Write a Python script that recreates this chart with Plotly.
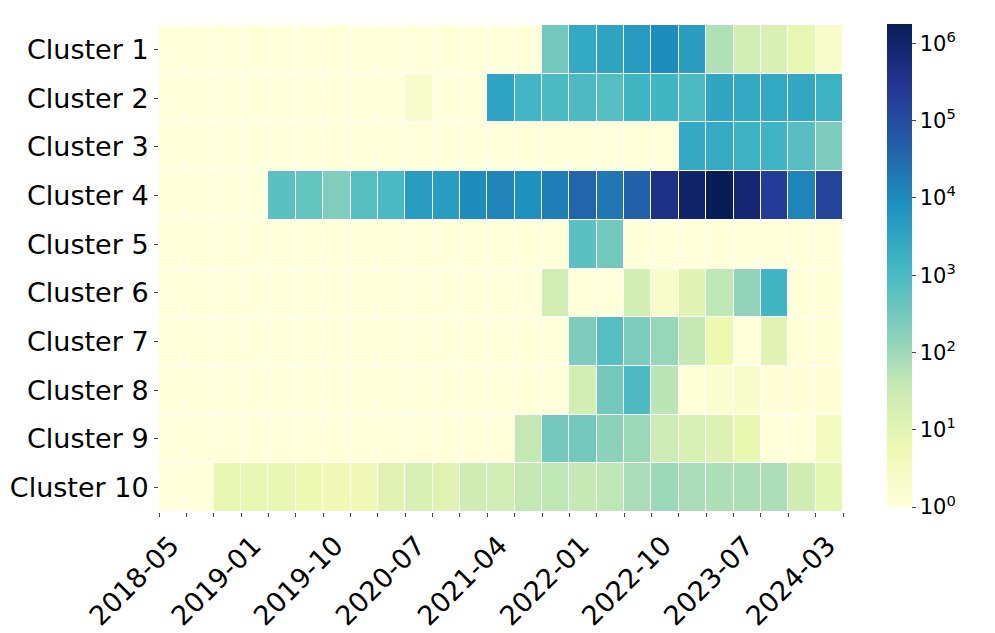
import numpy as np
import plotly.graph_objects as go

clusters = ["Cluster 1", "Cluster 2", "Cluster 3", "Cluster 4", "Cluster 5",
            "Cluster 6", "Cluster 7", "Cluster 8", "Cluster 9", "Cluster 10"]

# one label every third column edge
tick_labels = ["2018-05", "2019-01", "2019-10", "2020-07", "2021-04",
               "2022-01", "2022-10", "2023-07", "2024-03"]

# counts per period (25 periods)
cluster_1 = [0, 0, 0, 0, 0, 0, 0, 0, 0, 0, 0, 0, 0, 0, 320, 2500, 3300, 5200, 9300, 4300, 65, 22, 16, 8, 2]
cluster_2 = [0, 0, 0, 0, 0, 0, 0, 0, 0, 2, 0, 0, 3300, 1300, 1000, 950, 740, 1400, 1400, 1000, 3000, 2700, 2700, 2800, 1600]
cluster_3 = [0, 0, 0, 0, 0, 0, 0, 0, 0, 0, 0, 0, 0, 0, 0, 0, 0, 0, 0, 2500, 2350, 1600, 1500, 690, 230]
cluster_4 = [0, 0, 0, 0, 630, 500, 220, 740, 1050, 4700, 4700, 10000, 12600, 7900, 16000, 37000, 19500, 46000,
             450000, 1070000, 1780000, 800000, 210000, 12600, 155000]
cluster_5 = [0, 0, 0, 0, 0, 0, 0, 0, 0, 0, 0, 0, 0, 0, 0, 600, 330, 0, 0, 0, 0, 0, 0, 0, 0]
cluster_6 = [0, 0, 0, 0, 0, 0, 0, 0, 0, 0, 0, 0, 0, 0, 24, 0, 0, 21, 2, 11, 45, 140, 1400, 1.1, 1.1]
cluster_7 = [0, 0, 0, 0, 0, 0, 0, 0, 0, 0, 0, 0, 0, 0, 0, 230, 740, 240, 125, 38, 6, 0, 11, 1.1, 1.1]
cluster_8 = [0, 0, 0, 0, 0, 0, 0, 0, 0, 0, 0, 0, 0, 0, 0, 21, 320, 950, 48, 1.05, 1.6, 2, 1.2, 1.15, 1.15]
cluster_9 = [0, 0, 0, 0, 0, 0, 0, 0, 0, 0, 0, 0, 0, 40, 320, 320, 160, 110, 28, 18, 13, 7, 0, 0, 3]
cluster_10 = [0, 0, 8, 8, 8, 6, 5, 5, 11, 17, 12, 25, 24, 40, 45, 38, 45, 80, 110, 80, 70, 70, 70, 25, 9]

counts = np.array([cluster_1, cluster_2, cluster_3, cluster_4, cluster_5,
                   cluster_6, cluster_7, cluster_8, cluster_9, cluster_10], dtype=float)
z = np.log10(np.maximum(counts, 1))
n_cols = counts.shape[1]

# column edges get ticks, every third one labelled
edge_vals = list(range(n_cols + 1))
edge_text = [""] * (n_cols + 1)
for i, lab in enumerate(tick_labels):
    edge_text[i * 3] = lab

fig = go.Figure()
fig.add_trace(go.Heatmap(
    z=z, x=np.arange(n_cols) + 0.5, y=clusters,
    colorscale="YlGnBu", zmin=0, zmax=z.max(),
    xgap=1, ygap=1,
    customdata=counts,
    hovertemplate="%{y}<br>%{customdata:.0f}<extra></extra>",
    colorbar=dict(
        thickness=25, len=0.992, lenmode="fraction",
        x=1.064, xanchor="left", y=1.002, yanchor="top",
        xpad=0, ypad=0, outlinewidth=0,
        tickvals=[0, 1, 2, 3, 4, 5, 6],
        ticktext=["10<sup>%d</sup>" % k for k in range(7)],
        ticks="outside", ticklen=4, tickcolor="#444",
        tickfont=dict(size=21, color="black"),
    ),
))

fig.update_layout(
    width=995, height=633,
    margin=dict(l=159, r=152, t=25, b=121, autoexpand=False),
    plot_bgcolor="white", paper_bgcolor="white",
    font=dict(family="DejaVu Sans", size=27, color="black"),
    xaxis=dict(range=[0, n_cols], tickvals=edge_vals, ticktext=edge_text,
               tickangle=-45, ticks="outside", ticklen=4, tickcolor="#444",
               tickfont=dict(size=27), ticklabelstandoff=2, ticklabelshift=12,
               automargin=False,
               showgrid=False, zeroline=False, showline=False),
    yaxis=dict(autorange="reversed", ticks="outside", ticklen=4, tickcolor="#444",
               tickfont=dict(size=27), automargin=False,
               showgrid=False, zeroline=False, showline=False),
)

# drop the default 8px body margin so the figure sits at the page corner
fig.write_html("out.html", config={"displayModeBar": False},
               post_script="document.body.style.margin='0';")
